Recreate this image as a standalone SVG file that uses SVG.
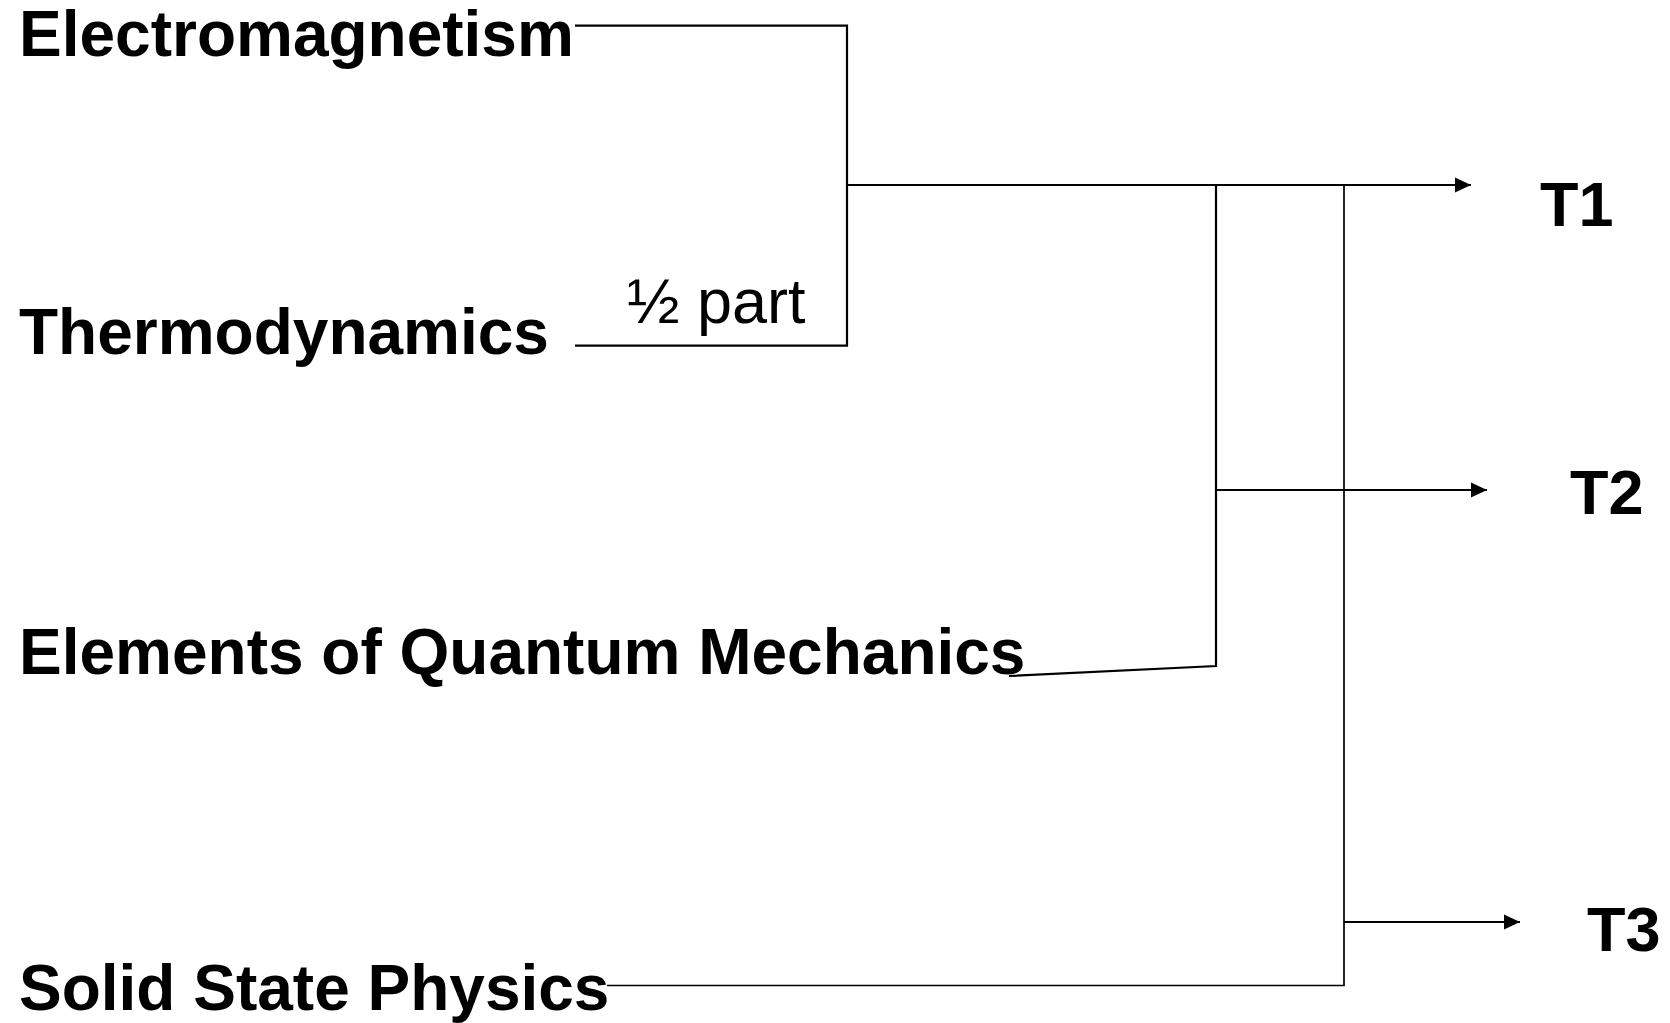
<svg xmlns="http://www.w3.org/2000/svg" width="1670" height="1023" viewBox="0 0 1670 1023">
<style>
.lbl{font-family:"Liberation Sans",Arial,sans-serif;font-weight:bold;font-size:64px;fill:#000}
.tl{font-family:"Liberation Sans",Arial,sans-serif;font-weight:bold;font-size:63px;fill:#000}
.note{font-family:"Liberation Sans",Arial,sans-serif;font-weight:normal;font-size:63px;fill:#000}
.ln{stroke:#000;stroke-width:2.2;fill:none}
.thin{stroke:#000;stroke-width:1.7;fill:none}
</style>
<defs>
<marker id="arr" markerWidth="17" markerHeight="18" refX="16" refY="9" orient="auto" markerUnits="userSpaceOnUse">
<path d="M0,1.5 L16,9 L0,16.5 Z" fill="#000"/>
</marker>
</defs>
<rect width="1670" height="1023" fill="#fff"/>
<g id="connectors">
<polyline class="ln" points="575,25.7 847,25.7 847,345.7 575,345.7"/>
<line class="ln" x1="847" y1="185" x2="1471" y2="185" marker-end="url(#arr)"/>
<polyline class="ln" points="1009,676 1216,666 1216,185"/>
<line class="ln" x1="1216" y1="490" x2="1487" y2="490" marker-end="url(#arr)"/>
<polyline class="thin" points="1344,185 1344,985.5 607,985.5"/>
<line class="ln" x1="1344" y1="922" x2="1520" y2="922" marker-end="url(#arr)"/>
</g>
<g id="electromagnetism"><text class="lbl" x="19" y="56">Electromagnetism</text></g>
<g id="thermodynamics"><text class="lbl" x="19" y="354">Thermodynamics</text></g>
<g id="half-part"><text class="note" x="627" y="323">½ part</text></g>
<g id="quantum"><text class="lbl" x="19" y="674">Elements of Quantum Mechanics</text></g>
<g id="solid-state"><text class="lbl" x="19" y="1010">Solid State Physics</text></g>
<g id="t1"><text class="tl" x="1540" y="226">T1</text></g>
<g id="t2"><text class="tl" x="1570" y="514">T2</text></g>
<g id="t3"><text class="tl" x="1587" y="951">T3</text></g>
</svg>
